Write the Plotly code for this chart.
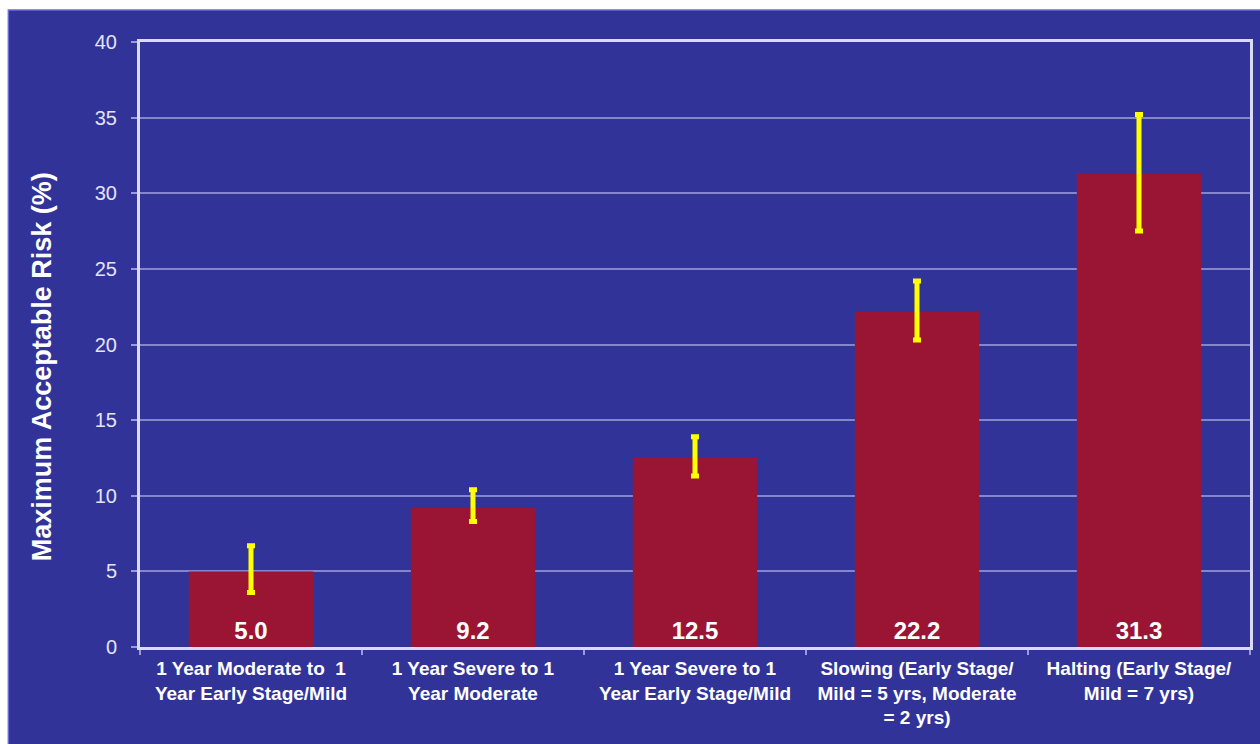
import plotly.graph_objects as go

categories = [
    "1 Year Moderate to  1<br>Year Early Stage/Mild",
    "1 Year Severe to 1<br>Year Moderate",
    "1 Year Severe to 1<br>Year Early Stage/Mild",
    "Slowing (Early Stage/<br>Mild = 5 yrs, Moderate<br>= 2 yrs)",
    "Halting (Early Stage/<br>Mild = 7 yrs)",
]
values = [5.0, 9.2, 12.5, 22.2, 31.3]
upper = [6.7, 10.4, 13.9, 24.2, 35.2]
lower = [3.6, 8.3, 11.3, 20.3, 27.5]
y_title = "Maximum Acceptable Risk (%)"

err_plus = [u - v for u, v in zip(upper, values)]
err_minus = [v - l for v, l in zip(values, lower)]

W, H = 1260, 744
ml, mr, mt, mb = 140, 7, 42, 97
pw, ph = W - ml - mr, H - mt - mb

BLUE = "#323399"
FONT = "Liberation Sans, Arial, sans-serif"

fig = go.Figure()
fig.add_trace(go.Bar(
    x=categories,
    y=values,
    marker=dict(color="#9a1533", line=dict(width=0)),
    text=[f"{v:.1f}" for v in values],
    textposition="inside",
    insidetextanchor="start",
    textangle=0,
    textfont=dict(family=FONT, size=24, color="white", weight="bold"),
    error_y=dict(
        type="data",
        symmetric=False,
        array=err_plus,
        arrayminus=err_minus,
        color="#ffff00",
        thickness=5,
        width=4,
    ),
    width=0.56,
))

# blue slide background with white border strip at top/left
fig.add_shape(
    type="rect", xref="paper", yref="paper", layer="below",
    x0=(8 - ml) / pw, x1=(W + 5 - ml) / pw,
    y0=-(mb + 5) / ph, y1=(H - 10 - mb) / ph,
    fillcolor=BLUE, line=dict(color="#6b6bd0", width=1.5),
)

fig.add_annotation(
    text=y_title, textangle=-90,
    xref="paper", yref="paper",
    x=(42 - ml) / pw, y=(H - mb - 367) / ph,
    xanchor="center", yanchor="middle",
    showarrow=False,
    font=dict(family=FONT, size=27, color="white", weight="bold"),
)

fig.update_layout(
    width=W, height=H,
    margin=dict(l=ml, r=mr, t=mt, b=mb),
    paper_bgcolor="white",
    plot_bgcolor="rgba(0,0,0,0)",
    showlegend=False,
    font=dict(family=FONT, color="white"),
    bargap=0.44,
)
fig.update_yaxes(
    range=[0, 40],
    dtick=5,
    tick0=0,
    showgrid=True,
    gridcolor="#8585cc",
    gridwidth=1.5,
    showline=True,
    mirror=True,
    linecolor="#dadaf4",
    linewidth=3,
    ticks="outside",
    ticklen=6,
    tickcolor="#9a9ad8",
    tickwidth=1.5,
    ticklabelstandoff=10,
    tickfont=dict(family=FONT, size=20, color="#e4e4f4"),
    zeroline=False,
)
fig.update_xaxes(
    showline=True,
    mirror=True,
    linecolor="#dadaf4",
    linewidth=3,
    ticks="outside",
    tickson="boundaries",
    ticklen=5,
    tickcolor="#9a9ad8",
    tickwidth=1.5,
    ticklabelstandoff=2,
    tickfont=dict(family=FONT, size=19, color="white", weight="bold"),
    showgrid=False,
)

fig.write_html("out.html")
